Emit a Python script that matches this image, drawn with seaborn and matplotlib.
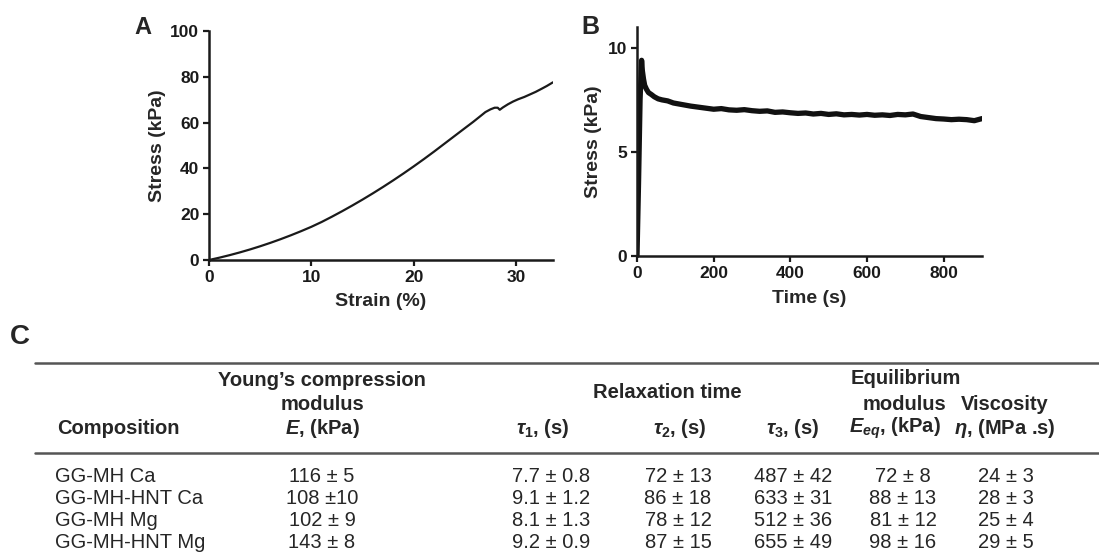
import matplotlib
matplotlib.use("Agg")
import matplotlib.pyplot as plt
from matplotlib.lines import Line2D
import pandas as pd
import seaborn as sns

# Panel A: compression curve
strain_pct = [0, 1, 2, 3, 4, 5, 6, 7, 8, 9, 10, 11, 12, 13, 14, 15, 16, 17, 18, 19,
              20, 21, 22, 23, 24, 25, 25.8, 26.5, 27.0, 27.5, 27.9, 28.2, 28.4, 28.7,
              29.2, 29.7, 30.2, 30.8, 31.3, 31.9, 32.5, 33.0, 33.6]
stress_a = [0, 1.0, 2.1, 3.3, 4.6, 6.0, 7.5, 9.1, 10.8, 12.6, 14.5, 16.6, 18.9, 21.3,
            23.8, 26.4, 29.1, 31.9, 34.8, 37.8, 40.9, 44.1, 47.4, 50.8, 54.2, 57.6,
            60.3, 62.8, 64.6, 65.8, 66.5, 66.5, 65.6, 66.6, 68.0, 69.2, 70.2, 71.2,
            72.2, 73.4, 74.8, 76.0, 77.6]

# Panel B: stress relaxation
time_s = [0, 4, 8, 12, 14, 17, 20, 25, 30, 38, 45, 55, 65, 80, 95, 110, 125, 140,
          160, 180, 200, 220, 240, 260, 280, 300, 320, 340, 360, 380, 400, 420, 440,
          460, 480, 500, 520, 540, 560, 580, 600, 620, 640, 660, 680, 700, 720, 740,
          760, 780, 800, 820, 840, 860, 880, 900]
stress_b = [0, 3.5, 7.5, 9.4, 8.9, 8.5, 8.2, 8.0, 7.85, 7.75, 7.65, 7.55, 7.5, 7.45,
            7.35, 7.3, 7.25, 7.2, 7.15, 7.1, 7.05, 7.08, 7.02, 7.0, 7.03, 6.98, 6.95,
            6.97, 6.9, 6.92, 6.88, 6.85, 6.87, 6.82, 6.85, 6.8, 6.83, 6.78, 6.8, 6.77,
            6.8, 6.76, 6.78, 6.75, 6.8, 6.78, 6.82, 6.7, 6.65, 6.6, 6.58, 6.55, 6.57,
            6.55, 6.5, 6.6]

# Panel C: table
compositions = ["GG-MH Ca", "GG-MH-HNT Ca", "GG-MH Mg", "GG-MH-HNT Mg"]
young_E = ["116 ± 5", "108 ±10", "102 ± 9", "143 ± 8"]
tau1 = ["7.7 ± 0.8", "9.1 ± 1.2", "8.1 ± 1.3", "9.2 ± 0.9"]
tau2 = ["72 ± 13", "86 ± 18", "78 ± 12", "87 ± 15"]
tau3 = ["487 ± 42", "633 ± 31", "512 ± 36", "655 ± 49"]
e_eq = ["72 ± 8", "88 ± 13", "81 ± 12", "98 ± 16"]
viscosity = ["24 ± 3", "28 ± 3", "25 ± 4", "29 ± 5"]

sns.set_theme(style="ticks")
plt.rcParams['font.family'] = ['Liberation Sans', 'DejaVu Sans']
plt.rcParams['mathtext.fontset'] = 'custom'
plt.rcParams['mathtext.rm'] = 'Liberation Sans:bold'
plt.rcParams['mathtext.it'] = 'Liberation Sans:italic:bold'
plt.rcParams['mathtext.bf'] = 'Liberation Sans:bold'

W, H = 1099, 559
fig = plt.figure(figsize=(W / 100, H / 100), dpi=100)
fig.patch.set_facecolor('white')


def px(x, y):
    return x / W, 1 - y / H


def style_axis(ax):
    sns.despine(ax=ax)
    for s in ('left', 'bottom'):
        ax.spines[s].set_linewidth(1.8)
        ax.spines[s].set_color('#1a1a1a')
    ax.tick_params(direction='out', length=4, width=1.6, colors='#1a1a1a',
                   labelsize=12.5, pad=3)
    for lab in ax.get_xticklabels() + ax.get_yticklabels():
        lab.set_fontweight('bold')
        lab.set_color('#1a1a1a')
    ax.set_facecolor('white')


# A
ax_a = fig.add_axes([209 / W, 1 - 260 / H, 344 / W, 229 / H])
df_a = pd.DataFrame({'strain': strain_pct, 'stress': stress_a})
sns.lineplot(data=df_a, x='strain', y='stress', ax=ax_a, color='#1a1a1a',
             linewidth=1.6, sort=False)
ax_a.set_xlim(0, 33.6)
ax_a.set_ylim(0, 100)
ax_a.set_xticks([0, 10, 20, 30])
ax_a.set_yticks([0, 20, 40, 60, 80, 100])
style_axis(ax_a)
ax_a.set_xlabel('Strain (%)', fontsize=14, fontweight='bold', labelpad=6)
ax_a.set_ylabel('Stress (kPa)', fontsize=14, fontweight='bold', labelpad=3)

# B
ax_b = fig.add_axes([637 / W, 1 - 256 / H, 345 / W, 229 / H])
df_b = pd.DataFrame({'time': time_s, 'stress': stress_b})
sns.lineplot(data=df_b, x='time', y='stress', ax=ax_b, color='#111111',
             linewidth=3.8, sort=False)
ax_b.set_xlim(0, 900)
ax_b.set_ylim(0, 11)
ax_b.set_xticks([0, 200, 400, 600, 800])
ax_b.set_yticks([0, 5, 10])
style_axis(ax_b)
ax_b.set_xlabel('Time (s)', fontsize=14, fontweight='bold', labelpad=7)
ax_b.set_ylabel('Stress (kPa)', fontsize=14, fontweight='bold', labelpad=4)

# panel letters
fig.text(*px(143, 28), 'A', fontsize=17, fontweight='bold', ha='center', va='center')
fig.text(*px(590, 27), 'B', fontsize=18, fontweight='bold', ha='center', va='center')
fig.text(*px(20, 337), 'C', fontsize=20, fontweight='bold', ha='center', va='center')

# table rules
for yy in (363, 453):
    fig.add_artist(Line2D([35 / W, 1.0], [1 - yy / H, 1 - yy / H], color='#555555',
                          linewidth=1.8, transform=fig.transFigure))

hdr = dict(fontsize=14.5, fontweight='bold', ha='center', va='center')
fig.text(*px(322, 380), 'Young’s compression', **hdr)
fig.text(*px(322, 404), 'modulus', **hdr)
fig.text(*px(118, 428), 'Composition', **hdr)
fig.text(*px(322, 428), r'$E$, (kPa)', **hdr)
fig.text(*px(667, 393), 'Relaxation time', **hdr)
fig.text(*px(543, 428), r'$\tau_1$, (s)', **hdr)
fig.text(*px(680, 428), r'$\tau_2$, (s)', **hdr)
fig.text(*px(793, 428), r'$\tau_3$, (s)', **hdr)
fig.text(*px(906, 378), 'Equilibrium', **hdr)
fig.text(*px(904, 405), 'modulus', **hdr)
fig.text(*px(895, 428), r'$E_{eq}$, (kPa)', **hdr)
fig.text(*px(1005, 405), 'Viscosity', **hdr)
fig.text(*px(1005, 428), r'$\eta$, (MPa .s)', **hdr)

row_y = [476, 498, 520, 542]
cols = [(322, young_E), (551, tau1), (678, tau2), (793, tau3), (903, e_eq), (1006, viscosity)]
for i, yy in enumerate(row_y):
    fig.text(*px(55, yy), compositions[i], fontsize=14.5, ha='left', va='center')
    for xx, vals in cols:
        fig.text(*px(xx, yy), vals[i], fontsize=14.5, ha='center', va='center')

fig.savefig('out.png', dpi=100, facecolor='white')
